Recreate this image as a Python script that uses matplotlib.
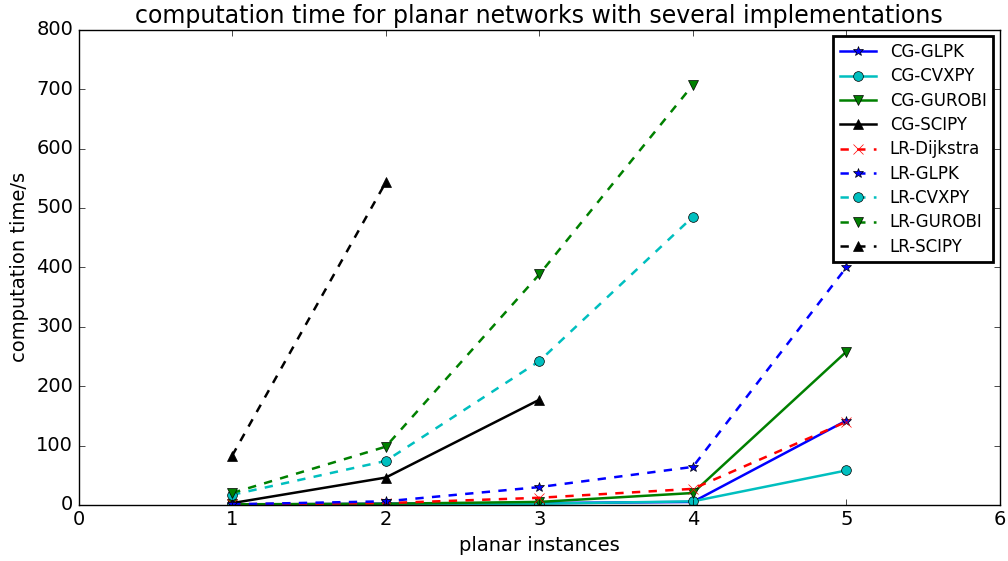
import matplotlib
matplotlib.use("Agg")
import matplotlib.pyplot as plt

plt.style.use('classic')
plt.rcParams['figure.facecolor'] = 'white'
plt.rcParams['savefig.facecolor'] = 'white'
plt.rcParams['font.size'] = 14

instances = [1, 2, 3, 4, 5]

cg_glpk = [0.5, 2, 3, 5, 142]
cg_cvxpy = [1, 1, 2, 6, 58]
cg_gurobi = [1, 2, 5, 20, 258]
cg_scipy = [3, 46, 177]
lr_dijkstra = [1, 3, 12, 27, 140]
lr_glpk = [1, 6, 30, 64, 400]
lr_cvxpy = [17, 74, 242, 485]
lr_gurobi = [20, 98, 388, 707]
lr_scipy = [83, 543]

fig = plt.figure(figsize=(10.08, 5.61), dpi=100)
ax = fig.add_axes([0.078, 0.1, 0.914, 0.847])

kw = dict(lw=1.8, ms=7)
ax.plot(instances, cg_glpk, 'b-*', label='CG-GLPK', **kw)
ax.plot(instances, cg_cvxpy, 'c-o', label='CG-CVXPY', **kw)
ax.plot(instances, cg_gurobi, 'g-v', label='CG-GUROBI', **kw)
ax.plot(instances[:len(cg_scipy)], cg_scipy, 'k-^', label='CG-SCIPY', **kw)
ax.plot(instances, lr_dijkstra, 'r--x', label='LR-Dijkstra', **kw)
ax.plot(instances, lr_glpk, 'b--*', label='LR-GLPK', **kw)
ax.plot(instances[:len(lr_cvxpy)], lr_cvxpy, 'c--o', label='LR-CVXPY', **kw)
ax.plot(instances[:len(lr_gurobi)], lr_gurobi, 'g--v', label='LR-GUROBI', **kw)
ax.plot(instances[:len(lr_scipy)], lr_scipy, 'k--^', label='LR-SCIPY', **kw)

ax.set_xlim(0, 6)
ax.set_ylim(0, 800)
ax.set_xlabel('planar instances')
ax.set_ylabel('computation time/s')
ax.set_title('computation time for planar networks with several implementations', fontsize=17)
leg = ax.legend(loc='upper right', fontsize=12, numpoints=1, handlelength=2.2,
                labelspacing=0.38, borderaxespad=0.4)
leg.get_frame().set_linewidth(2)

fig.savefig('out.png', dpi=100)
